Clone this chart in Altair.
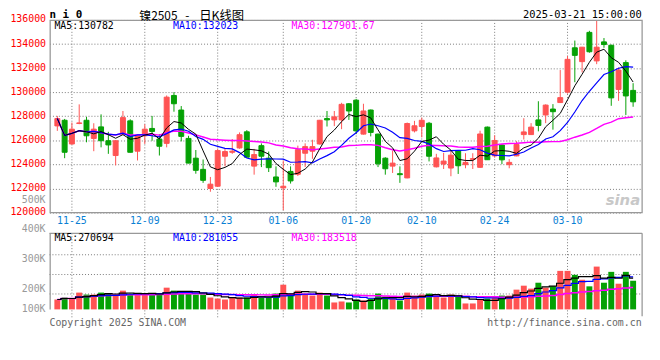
import altair as alt
import pandas as pd

# ---------------- data ----------------
opens = [127200,127670,125700,127400,127670,126160,127120,125970,124740,126520,
         127620,125100,126380,126990,126110,125750,129730,128520,126160,124520,
         123590,122000,122190,124680,125010,125370,126710,123860,125560,124520,
         122960,122050,123420,123180,124930,125100,125700,127810,127700,127700,
         129040,129340,126520,128520,126520,124520,123860,123230,122880,126790,
         127150,127420,123800,124030,123700,125120,123980,124420,123760,127100,
         124710,125610,123980,124710,126480,126480,127700,128110,128600,129140,
         130010,133690,132540,134970,132600,134180,133900,130230,132460,130150]
highs = [128030,127780,127480,128990,127950,127420,128160,126710,126000,128440,
         127750,126450,127340,128030,126520,129730,130000,128850,126380,125200,
         124410,122960,125290,125290,126110,126660,126850,125290,125750,125070,
         123840,124330,123840,125560,125750,126050,127700,128440,128440,129120,
         129100,129450,129040,128560,126560,124600,125150,123840,127480,127620,
         127890,127530,124880,124960,125120,125150,124930,124930,126800,127150,
         126420,125660,124440,125930,127840,127430,129250,128990,129010,131840,
         133010,134290,133760,135100,135950,134500,133950,132050,132650,130750]
lows = [126790,124520,125650,127340,125840,125100,125420,124880,123920,126500,
        125000,124330,125700,125970,124740,125420,128380,125920,124100,123230,
        122470,121730,122150,123840,124880,125300,124600,123150,123780,123370,
        122140,120200,122410,123040,123780,124470,125650,127150,127180,126930,
        127700,126520,126480,126330,123780,123150,123290,122470,122850,126660,
        126250,124250,123750,123620,123020,123210,123680,123620,123720,124380,
        124570,124030,123680,124680,126070,126450,126750,127430,126890,129100,
        129880,130830,131650,133280,132330,133690,128870,129280,128110,128790]
closes = [127810,125010,126930,127450,126380,126930,125970,125620,125970,127890,
          125010,126380,126930,126740,125510,129590,129040,126330,124110,123510,
          122680,122360,125150,125070,125100,126470,124600,124820,124680,123730,
          122550,122190,122630,125230,125480,125480,127670,127700,127950,128990,
          128440,126790,128440,126660,124050,123640,124110,123150,127400,127210,
          127670,124680,124540,124280,124770,123890,124170,124480,126530,124390,
          125990,124380,124170,125660,126700,127100,127240,128930,128380,129550,
          132730,133060,133740,133360,133740,133960,129530,131840,129690,129200]
volumes = [85700,102800,94200,145600,128500,128500,145600,137000,128500,162700,
           137000,128500,128500,137000,137000,188400,162700,154200,137000,128500,
           128500,102800,94200,85700,102800,102800,102800,128500,102800,102800,
           137000,214100,119900,162700,137000,119900,145600,119900,60000,68500,
           60000,85700,77100,94200,137000,111300,94200,77100,145600,119900,
           128500,137000,111300,102800,128500,111300,51400,51400,85700,94200,
           111300,119900,119900,171300,205600,179900,231300,188400,199900,334000,
           334000,299800,257000,199900,371200,231300,325500,222700,325500,248400]

date_labels = ["11-25", "12-09", "12-23", "01-06", "01-20", "02-10", "02-24", "03-10"]
date_label_idx = [3, 13, 23, 32, 42, 51, 61, 71]
price_ticks = [120000, 122000, 124000, 126000, 128000, 130000, 132000, 134000, 136000]
vol_tick_text = ["500K", "400K", "300K", "200K", "100K"]

ma_price_text = ["MA5:130782", "MA10:132023", "MA30:127901.67"]
ma_vol_text = ["MA5:270694", "MA10:281055", "MA30:183518"]

# ---------------- styles / layout ----------------
RED = "#ff5353"
GREEN = "#05a105"
GRID = "#7a7a7a"
FRAME = "#999999"
MONO = "DejaVu Sans Mono"
CJK = "Noto Sans CJK SC"
W, H = 600, 303
OX, OY = 50, 18  # page position of the view's origin

df = pd.DataFrame({"idx": list(range(1, len(closes) + 1)), "open": opens, "high": highs,
                   "low": lows, "close": closes, "volume": volumes})
df["dir"] = ["up" if c >= o else "down" for o, c in zip(opens, closes)]
labels_df = pd.DataFrame({"idx": date_label_idx, "text": date_labels})

x_scale = alt.Scale(domain=[0.6, 80.557], nice=False, zero=False)
price_scale = alt.Scale(domain=[111138, 136000], nice=False, zero=False)
vol_scale = alt.Scale(domain=[-85670, 2510131], nice=False, zero=False)
color_scale = alt.Scale(domain=["up", "down"], range=[RED, GREEN])

X = alt.X("idx:Q", scale=x_scale, axis=None)
COL = alt.Color("dir:N", scale=color_scale, legend=None)

base = alt.Chart(df)
sort_idx = [alt.SortField("idx", order="ascending")]

price_axis = alt.Axis(values=price_ticks, orient="left", format="d", title=None,
                      labelColor="#ff0000", labelFont=MONO, labelFontSize=10,
                      labelPadding=4, labelOffset=-1, ticks=False, domain=False,
                      grid=True, gridColor=GRID, gridDash=[1, 2], gridWidth=1)

vgrid_price = alt.Chart(labels_df).mark_rule(color=GRID, strokeDash=[1, 2]).encode(
    x=X, y=alt.value(0), y2=alt.value(195))
wicks = base.mark_rule(strokeWidth=1).encode(
    x=X, y=alt.Y("low:Q", scale=price_scale, axis=price_axis), y2="high:Q", color=COL)
bodies = base.mark_bar(width=5, strokeWidth=1).encode(
    x=X, y=alt.Y("open:Q", scale=price_scale, axis=price_axis), y2="close:Q", color=COL,
    stroke=alt.Stroke("dir:N", scale=color_scale, legend=None))


def ma_line(field, n, color, width, scale, axis, interp="linear"):
    return base.transform_window(
        **{"m": f"mean({field})"}, frame=[-(n - 1), 0], sort=sort_idx
    ).mark_line(color=color, strokeWidth=width, interpolate=interp).encode(
        x=X, y=alt.Y("m:Q", scale=scale, axis=axis))


price_group = alt.layer(
    wicks, bodies,
    ma_line("close", 30, "#ff00ff", 1.5, price_scale, price_axis),
    ma_line("close", 10, "#0000ff", 1.2, price_scale, price_axis),
    ma_line("close", 5, "#000000", 1, price_scale, price_axis),
)

vbars = base.mark_bar(width=6).encode(
    x=X, y=alt.Y("volume:Q", scale=vol_scale, axis=None), y2=alt.datum(0), color=COL)
vol_group = alt.layer(
    vbars,
    ma_line("volume", 30, "#ff00ff", 1.5, vol_scale, None, "step"),
    ma_line("volume", 10, "#0000ff", 1.2, vol_scale, None, "step"),
    ma_line("volume", 5, "#000000", 1.2, vol_scale, None, "step"),
)

vgrid_vol = alt.Chart(labels_df).mark_rule(color=GRID, strokeDash=[1, 2]).encode(
    x=X, y=alt.value(216), y2=alt.value(303))

one = pd.DataFrame({"a": [0]})


def hline(py, x1=0, x2=W, color=GRID, dash=None, width=1):
    kw = dict(color=color, strokeWidth=width)
    if dash:
        kw["strokeDash"] = dash
    return alt.Chart(one).mark_rule(**kw).encode(
        x=alt.value(x1), x2=alt.value(x2), y=alt.value(py - OY))


def vline(px, y1, y2, color=FRAME, width=1.3):
    return alt.Chart(one).mark_rule(color=color, strokeWidth=width).encode(
        x=alt.value(px - OX), y=alt.value(y1 - OY), y2=alt.value(y2 - OY))


def txt(s, px, py, color="#000000", size=10, align="left", font=MONO,
        weight="normal", style="normal"):
    return alt.Chart(pd.DataFrame({"t": [s]})).mark_text(
        align=align, baseline="middle", font=font, fontSize=size,
        fontWeight=weight, fontStyle=style, color=color).encode(
        text="t:N", x=alt.value(px - OX), y=alt.value(py - OY))


grids = [vgrid_price, vgrid_vol,
         hline(255.7, dash=[1, 2]), hline(275.7, dash=[1, 2]), hline(295.4, dash=[1, 2])]

frames = [
    alt.Chart(one).mark_rect(fillOpacity=0, stroke=FRAME, strokeWidth=1.3).encode(
        x=alt.value(0.7), x2=alt.value(W), y=alt.value(0.5), y2=alt.value(195)),
    hline(234, color=FRAME, width=1.3),
    vline(50.7, 234, 311), vline(650, 234, 318),
]

date_text = alt.Chart(labels_df).mark_text(
    font=MONO, fontSize=10, color="#0a7fd4", align="center", baseline="middle").encode(
    x=X, text="text:N", y=alt.value(221.5 - OY))

vol_label_y = [200, 230, 259.7, 290.8, 311]
texts = [date_text,
         txt("n i 0", 50, 12.5, size=11, weight="bold"),
         txt("镍2505", 141, 14, size=12, font=CJK),
         txt("-", 189.5, 14, size=12, font=CJK, align="center"),
         txt("日K线图", 201.5, 14, size=12.5, font=CJK),
         txt("2025-03-21 15:00:00", 649.5, 12.5, size=10.5, align="right"),
         txt(ma_price_text[0], 55, 24, color="#000000"),
         txt(ma_price_text[1], 175, 24, color="#0000ff"),
         txt(ma_price_text[2], 295, 24, color="#ff00ff"),
         txt(ma_vol_text[0], 55, 238.5, color="#000000"),
         txt(ma_vol_text[1], 175, 238.5, color="#0000ff"),
         txt(ma_vol_text[2], 295, 238.5, color="#ff00ff"),
         txt("Copyright 2025 SINA.COM", 50, 324.5, color="#666666"),
         txt("http://finance.sina.com.cn", 649.5, 324.5, color="#666666", align="right"),
         txt("sina", 648, 200, color="#c8c8c8", size=15, align="right",
             font="DejaVu Sans", weight="bold", style="italic"),
         ]
for s, py in zip(vol_tick_text, vol_label_y):
    texts.append(txt(s, 46, py, color="#999999", align="right"))

chart = alt.layer(*grids, price_group, vol_group, *frames, *texts).resolve_scale(
    y="independent").properties(
    width=W, height=H,
    autosize=alt.AutoSizeParams(type="none"),
    padding={"left": 42, "top": 10, "right": 10, "bottom": 30},
).configure_view(strokeWidth=0)

chart.save("out.html", embed_options={"renderer": "svg", "actions": False})
